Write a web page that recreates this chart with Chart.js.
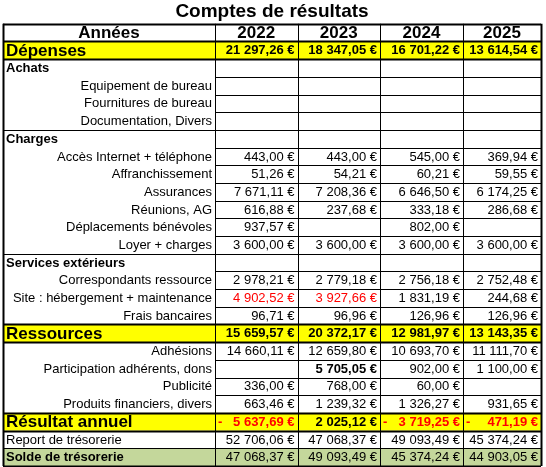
<!DOCTYPE html>
<html><head><meta charset="utf-8">
<script src="https://cdn.jsdelivr.net/npm/chart.js@4"></script>
<style>body{margin:0;background:#fff}#wrap{width:546px;height:467px}</style>
</head><body><div id="wrap"><canvas id="tbl"></canvas></div>
<script>
const years = ['2022', '2023', '2024', '2025'];
const rows = ['Années', 'Dépenses', 'Achats', 'Equipement de bureau', 'Fournitures de bureau', 'Documentation, Divers',
    'Charges', 'Accès Internet + téléphone', 'Affranchissement', 'Assurances', 'Réunions, AG', 'Déplacements bénévoles',
    'Loyer + charges', 'Services extérieurs', 'Correspondants ressource', 'Site : hébergement + maintenance', 'Frais bancaires',
    'Ressources', 'Adhésions', 'Participation adhérents, dons', 'Publicité', 'Produits financiers, divers',
    'Résultat annuel', 'Report de trésorerie', 'Solde de trésorerie'];
// row kinds: head, total, section, item, report, solde
const kinds = ['head', 'total', 'section', 'item', 'item', 'item', 'section', 'item', 'item', 'item', 'item', 'item',
    'item', 'section', 'item', 'item', 'item', 'total', 'item', 'item', 'item', 'item', 'total', 'report', 'solde'];
const v2022 = ['', '21 297,26 €', '', '', '', '', '', '443,00 €', '51,26 €', '7 671,11 €', '616,88 €', '937,57 €', '3 600,00 €', '',
    '2 978,21 €', '4 902,52 €', '96,71 €', '15 659,57 €', '14 660,11 €', '', '336,00 €', '663,46 €', '- 5 637,69 €', '52 706,06 €', '47 068,37 €'];
const v2023 = ['', '18 347,05 €', '', '', '', '', '', '443,00 €', '54,21 €', '7 208,36 €', '237,68 €', '', '3 600,00 €', '',
    '2 779,18 €', '3 927,66 €', '96,96 €', '20 372,17 €', '12 659,80 €', '5 705,05 €', '768,00 €', '1 239,32 €', '2 025,12 €', '47 068,37 €', '49 093,49 €'];
const v2024 = ['', '16 701,22 €', '', '', '', '', '', '545,00 €', '60,21 €', '6 646,50 €', '333,18 €', '802,00 €', '3 600,00 €', '',
    '2 756,18 €', '1 831,19 €', '126,96 €', '12 981,97 €', '10 693,70 €', '902,00 €', '60,00 €', '1 326,27 €', '- 3 719,25 €', '49 093,49 €', '45 374,24 €'];
const v2025 = ['', '13 614,54 €', '', '', '', '', '', '369,94 €', '59,55 €', '6 174,25 €', '286,68 €', '', '3 600,00 €', '',
    '2 752,48 €', '244,68 €', '126,96 €', '13 143,35 €', '11 111,70 €', '1 100,00 €', '', '931,65 €', '- 471,19 €', '45 374,24 €', '44 903,05 €'];
const redCells = [[15, 0], [15, 1], [22, 0], [22, 2], [22, 3]];
const boldCells = [[19, 1]];
// column edges in x-scale units (label column then the four years)
const colEdges = [0, 212, 294.5, 377, 460, 538];

const values = [v2022, v2023, v2024, v2025];
const font = (w, s) => (w ? 'bold ' : '') + s + 'px Arial, "Liberation Sans", sans-serif';

const tablePlugin = {
    id: 'tableDraw',
    afterDraw(chart) {
        const c = chart.ctx, xs = chart.scales.x, ys = chart.scales.y;
        const X = i => xs.getPixelForValue(colEdges[i]);
        const top = r => ys.getPixelForValue(r - 0.5), bot = r => ys.getPixelForValue(r + 0.5);
        c.save();
        c.textBaseline = 'middle';
        rows.forEach((label, r) => {
            const k = kinds[r], y0 = top(r), y1 = bot(r), ym = (y0 + y1) / 2 + 0.5;
            let bg = null;
            if (k === 'total') bg = '#ffff00';
            if (k === 'solde') bg = '#c4d79b';
            if (bg) { c.fillStyle = bg; c.fillRect(X(0), y0, X(5) - X(0), y1 - y0); }
            // label
            c.fillStyle = '#000';
            if (k === 'head') { c.font = font(true, 17); c.textAlign = 'center'; c.fillText(label, (X(0) + X(1)) / 2, ym); }
            else if (k === 'total') { c.font = font(true, 17); c.textAlign = 'left'; c.fillText(label, X(0) + 3, ym); }
            else if (k === 'section' || k === 'solde') { c.font = font(true, 13); c.textAlign = 'left'; c.fillText(label, X(0) + 3, ym); }
            else if (k === 'report') { c.font = font(false, 13); c.textAlign = 'left'; c.fillText(label, X(0) + 3, ym); }
            else { c.font = font(false, 13); c.textAlign = 'right'; c.fillText(label, X(1) - 3, ym); }
            // values
            for (let j = 0; j < 4; j++) {
                const xl = X(j + 1), xr = X(j + 2);
                let txt = k === 'head' ? years[j] : values[j][r];
                const red = redCells.some(p => p[0] === r && p[1] === j);
                const bold = k === 'head' || k === 'total' || boldCells.some(p => p[0] === r && p[1] === j);
                c.fillStyle = red ? '#ff0000' : '#000';
                c.font = font(bold, k === 'head' ? 17 : 13);
                if (k === 'head') { c.textAlign = 'center'; c.fillText(txt, (xl + xr) / 2, ym); continue; }
                if (txt.startsWith('- ')) {
                    c.textAlign = 'left'; c.fillText('-', xl + 3, ym);
                    txt = txt.slice(2);
                }
                c.textAlign = 'right'; c.fillText(txt, xr - 3, ym);
            }
        });
        // grid lines
        c.strokeStyle = '#000';
        const line = (x0, y0, x1, y1, w) => { c.lineWidth = w; c.beginPath(); c.moveTo(x0, y0); c.lineTo(x1, y1); c.stroke(); };
        for (let r = 0; r <= rows.length; r++) {
            const y = r < rows.length ? top(r) : bot(r - 1);
            const prev = kinds[r - 1], cur = kinds[r];
            const heavy = cur === 'total' || prev === 'total' || cur === 'head' || r === rows.length;
            const labelLine = heavy || cur === 'report' || cur === 'solde' || cur === 'section' && r > 2;
            line(X(1), Math.round(y) + 0.5, X(5), Math.round(y) + 0.5, heavy ? 2 : 1);
            if (labelLine || r === 2) line(X(0), Math.round(y) + 0.5, X(1), Math.round(y) + 0.5, heavy ? 2 : 1);
        }
        const yT = top(0), yB = bot(rows.length - 1);
        for (let i = 0; i <= 5; i++) line(Math.round(X(i)) + 0.5, yT, Math.round(X(i)) + 0.5, yB, i === 0 || i === 5 ? 2 : 1);
        c.restore();
    }
};

new Chart(document.getElementById('tbl'), {
    type: 'bar',
    data: { labels: rows, datasets: [{ data: [], backgroundColor: 'rgba(0,0,0,0)' }] },
    plugins: [tablePlugin],
    options: {
        animation: false,
        responsive: true,
        maintainAspectRatio: false,
        indexAxis: 'y',
        layout: { padding: { left: 3, right: 5, top: 0, bottom: 1 } },
        scales: {
            x: { type: 'linear', min: colEdges[0], max: colEdges[5], display: false },
            y: { type: 'category', display: false }
        },
        plugins: {
            legend: { display: false },
            tooltip: { enabled: false },
            title: {
                display: true,
                text: 'Comptes de résultats',
                color: '#000',
                font: { family: 'Arial, "Liberation Sans", sans-serif', size: 19, weight: 'bold' },
                padding: { top: 0, bottom: 1 }
            }
        }
    }
});
</script>
</body></html>
